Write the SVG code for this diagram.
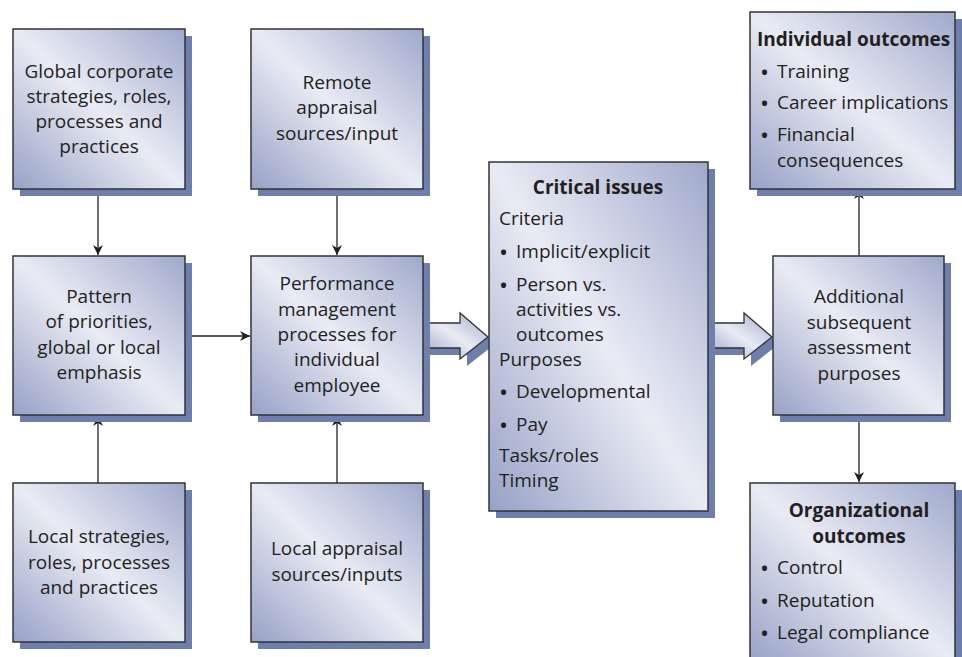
<svg xmlns="http://www.w3.org/2000/svg" width="962" height="657" viewBox="0 0 962 657">
<defs>
<linearGradient id="g" x1="0" y1="1" x2="1" y2="0">
<stop offset="0" stop-color="#97a1c6"/>
<stop offset="0.5" stop-color="#e9ebf4"/>
<stop offset="1" stop-color="#a0a9cc"/>
</linearGradient>
<marker id="ah" viewBox="0 0 10 10" refX="10" refY="5" markerWidth="10" markerHeight="10" markerUnits="userSpaceOnUse" orient="auto">
<path d="M0,0 L10,5 L0,10 L3,5 Z" fill="#231f20"/>
</marker>
</defs>
<style>
.sh{fill:#6e7fae}
.bx{fill:url(#g);stroke:#333;stroke-width:1.5}
text{font-family:"Open Sans","Noto Sans",sans-serif;font-size:19px;fill:#231f20}
.c{text-anchor:middle}
.b{font-weight:bold}
.bu{font-size:24px}
.ln{stroke:#231f20;stroke-width:1.3;fill:none;marker-end:url(#ah)}
</style>
<rect width="962" height="657" fill="#fff"/>

<g id="connectors">
<line class="ln" x1="98" y1="189" x2="98" y2="255"/>
<line class="ln" x1="337" y1="189" x2="337" y2="255"/>
<line class="ln" x1="98" y1="483" x2="98" y2="416"/>
<line class="ln" x1="337" y1="483" x2="337" y2="416"/>
<line class="ln" x1="185" y1="336" x2="250" y2="336"/>
<line class="ln" x1="859" y1="256" x2="859" y2="189"/>
<line class="ln" x1="859" y1="415" x2="859" y2="482"/>
<g id="blockarrow1">
<path class="sh" d="M430,330 L467,330 L467,320 L495,344 L467,366 L467,355 L430,355 Z"/>
<path d="M423,323 L460,323 L460,313 L488,337 L460,359 L460,348 L423,348 Z" fill="url(#g)" stroke="#333" stroke-width="1.3"/>
</g>
<g id="blockarrow2">
<path class="sh" d="M714,330 L751,330 L751,320 L779,344 L751,366 L751,355 L714,355 Z"/>
<path d="M707,323 L744,323 L744,313 L772,337 L744,359 L744,348 L707,348 Z" fill="url(#g)" stroke="#333" stroke-width="1.3"/>
</g>
</g>

<g id="global">
<rect class="sh" x="20" y="36" width="172" height="160"/>
<rect class="bx" x="13" y="29" width="172" height="160"/>
<text class="c" x="99" y="78">Global corporate</text>
<text class="c" x="99" y="103">strategies, roles,</text>
<text class="c" x="99" y="128">processes and</text>
<text class="c" x="99" y="153">practices</text>
</g>

<g id="remote">
<rect class="sh" x="258" y="36" width="172" height="160"/>
<rect class="bx" x="251" y="29" width="172" height="160"/>
<text class="c" x="337" y="89">Remote</text>
<text class="c" x="337" y="114">appraisal</text>
<text class="c" x="337" y="140">sources/input</text>
</g>

<g id="pattern">
<rect class="sh" x="20" y="263" width="172" height="159"/>
<rect class="bx" x="13" y="256" width="172" height="159"/>
<text class="c" x="99" y="303">Pattern</text>
<text class="c" x="99" y="328">of priorities,</text>
<text class="c" x="99" y="354">global or local</text>
<text class="c" x="99" y="379">emphasis</text>
</g>

<g id="performance">
<rect class="sh" x="258" y="263" width="172" height="159"/>
<rect class="bx" x="251" y="256" width="172" height="159"/>
<text class="c" x="337" y="290">Performance</text>
<text class="c" x="337" y="316">management</text>
<text class="c" x="337" y="341">processes for</text>
<text class="c" x="337" y="366">individual</text>
<text class="c" x="337" y="392">employee</text>
</g>

<g id="localstrat">
<rect class="sh" x="20" y="490" width="172" height="159"/>
<rect class="bx" x="13" y="483" width="172" height="159"/>
<text class="c" x="99" y="543">Local strategies,</text>
<text class="c" x="99" y="569">roles, processes</text>
<text class="c" x="99" y="594">and practices</text>
</g>

<g id="localappraisal">
<rect class="sh" x="258" y="490" width="172" height="159"/>
<rect class="bx" x="251" y="483" width="172" height="159"/>
<text class="c" x="337" y="555">Local appraisal</text>
<text class="c" x="337" y="581">sources/inputs</text>
</g>

<g id="critical">
<rect class="sh" x="496" y="169" width="219" height="349"/>
<rect class="bx" x="489" y="162" width="219" height="349"/>
<text class="c b" x="598" y="194">Critical issues</text>
<text x="499" y="225">Criteria</text>
<text x="499" y="261"><tspan class="bu">•</tspan><tspan x="516" y="258">Implicit/explicit</tspan></text>
<text x="499" y="294"><tspan class="bu">•</tspan><tspan x="516" y="291">Person vs.</tspan></text>
<text x="516" y="316">activities vs.</text>
<text x="516" y="341">outcomes</text>
<text x="499" y="366">Purposes</text>
<text x="499" y="401"><tspan class="bu">•</tspan><tspan x="516" y="398">Developmental</tspan></text>
<text x="499" y="434"><tspan class="bu">•</tspan><tspan x="516" y="431">Pay</tspan></text>
<text x="499" y="462">Tasks/roles</text>
<text x="499" y="487">Timing</text>
</g>

<g id="additional">
<rect class="sh" x="780" y="263" width="171" height="159"/>
<rect class="bx" x="773" y="256" width="171" height="159"/>
<text class="c" x="859" y="303">Additional</text>
<text class="c" x="859" y="329">subsequent</text>
<text class="c" x="859" y="354">assessment</text>
<text class="c" x="859" y="380">purposes</text>
</g>

<g id="individual">
<rect class="sh" x="757" y="19" width="205" height="177"/>
<rect class="bx" x="750" y="12" width="205" height="177"/>
<text class="b" x="757" y="46">Individual outcomes</text>
<text x="760" y="81"><tspan class="bu">•</tspan><tspan x="777" y="78">Training</tspan></text>
<text x="760" y="112"><tspan class="bu">•</tspan><tspan x="777" y="109">Career implications</tspan></text>
<text x="760" y="144"><tspan class="bu">•</tspan><tspan x="777" y="141">Financial</tspan></text>
<text x="777" y="167">consequences</text>
</g>

<g id="organizational">
<rect class="sh" x="757" y="490" width="205" height="177"/>
<rect class="bx" x="750" y="483" width="205" height="180"/>
<text class="c b" x="859" y="517">Organizational</text>
<text class="c b" x="859" y="543">outcomes</text>
<text x="760" y="577"><tspan class="bu">•</tspan><tspan x="777" y="574">Control</tspan></text>
<text x="760" y="610"><tspan class="bu">•</tspan><tspan x="777" y="607">Reputation</tspan></text>
<text x="760" y="642"><tspan class="bu">•</tspan><tspan x="777" y="639">Legal compliance</tspan></text>
</g>
</svg>
